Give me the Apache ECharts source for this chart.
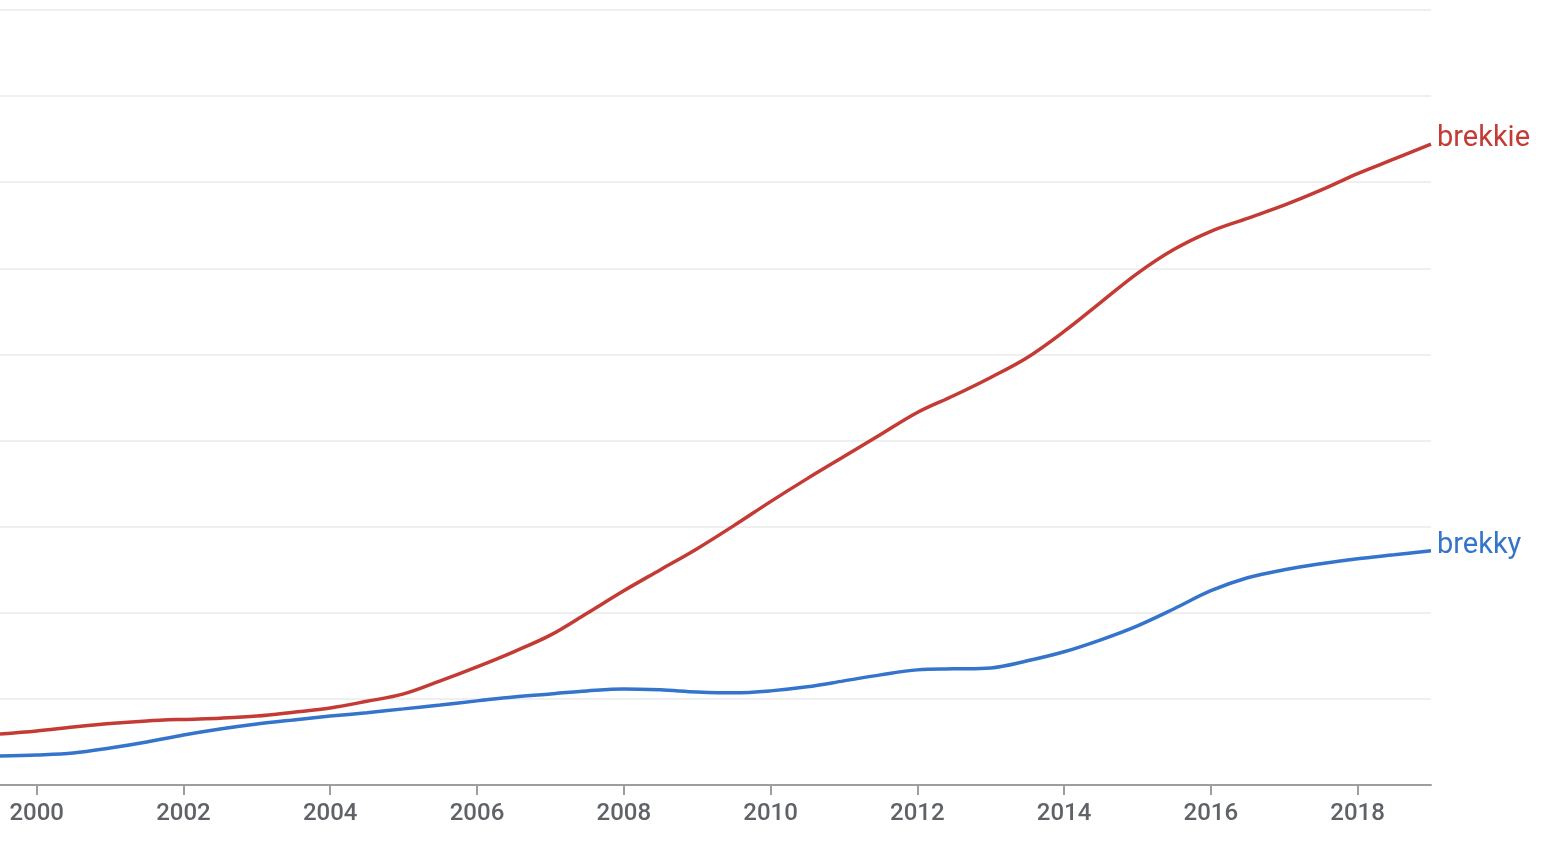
<!DOCTYPE html>
<html>
<head>
<meta charset="utf-8">
<script src="https://cdn.jsdelivr.net/npm/echarts@6/dist/echarts.min.js"></script>
<style>
html,body{margin:0;padding:0;background:#fff;}
#chart{width:1550px;height:858px;}
</style>
</head>
<body>
<div id="chart"></div>
<script>
const years = [1999.5,2000,2000.5,2001,2001.5,2002,2002.5,2003,2003.5,2004,2004.5,2005,2005.5,2006,2006.5,2007,2007.5,2008,2008.5,2009,2009.5,2010,2010.5,2011,2011.5,2012,2012.5,2013,2013.5,2014,2014.5,2015,2015.5,2016,2016.5,2017,2017.5,2018,2018.5,2019];
const brekkie = [0.593,0.628,0.674,0.715,0.744,0.762,0.776,0.800,0.845,0.895,0.972,1.058,1.209,1.372,1.547,1.740,1.995,2.256,2.500,2.744,3.012,3.291,3.558,3.814,4.070,4.326,4.523,4.733,4.965,5.267,5.605,5.942,6.221,6.430,6.581,6.733,6.907,7.100,7.270,7.442];
const brekky = [0.337,0.349,0.372,0.430,0.500,0.581,0.651,0.709,0.756,0.800,0.840,0.884,0.930,0.977,1.023,1.058,1.093,1.116,1.105,1.081,1.070,1.093,1.140,1.209,1.279,1.337,1.349,1.360,1.442,1.547,1.686,1.849,2.047,2.256,2.407,2.500,2.570,2.628,2.674,2.721];
const tickYears = [2000,2002,2004,2006,2008,2010,2012,2014,2016,2018];
const seriesNames = ['brekkie','brekky'];
const colors = ['#c33b34','#3475cb'];

const chart = echarts.init(document.getElementById('chart'), null, {renderer:'canvas'});
function mk(name, vals, color){
  return {
    name: name, type:'line', smooth:0.35, symbol:'none',
    data: years.map((y,i)=>[y, vals[i]]),
    lineStyle:{color:color, width:3.5},
    itemStyle:{color:color},
    endLabel:{show:true, formatter:'{a}', color:color, fontSize:29, fontFamily:'Roboto', distance:6, offset:[0,-5]}
  };
}
chart.setOption({
  animation:false,
  backgroundColor:'#fff',
  grid:{left:0, right:119, top:10, bottom:73, containLabel:false},
  xAxis:{
    type:'value', min:1999.5, max:2019,
    axisLine:{show:true, lineStyle:{color:'#9e9e9e', width:2}},
    axisTick:{show:true, length:10, customValues:tickYears, lineStyle:{color:'#9e9e9e', width:2}},
    axisLabel:{customValues:tickYears, color:'#5f6368', fontSize:24, fontWeight:500, fontFamily:'Roboto', margin:17, formatter:v=>String(v)},
    splitLine:{show:false}
  },
  yAxis:{
    type:'value', min:0, max:9, interval:1,
    axisLine:{show:false}, axisTick:{show:false}, axisLabel:{show:false},
    splitLine:{show:true, lineStyle:{color:'#efefef', width:2}}
  },
  series:[mk(seriesNames[0], brekkie, colors[0]), mk(seriesNames[1], brekky, colors[1])]
});
</script>
</body>
</html>
